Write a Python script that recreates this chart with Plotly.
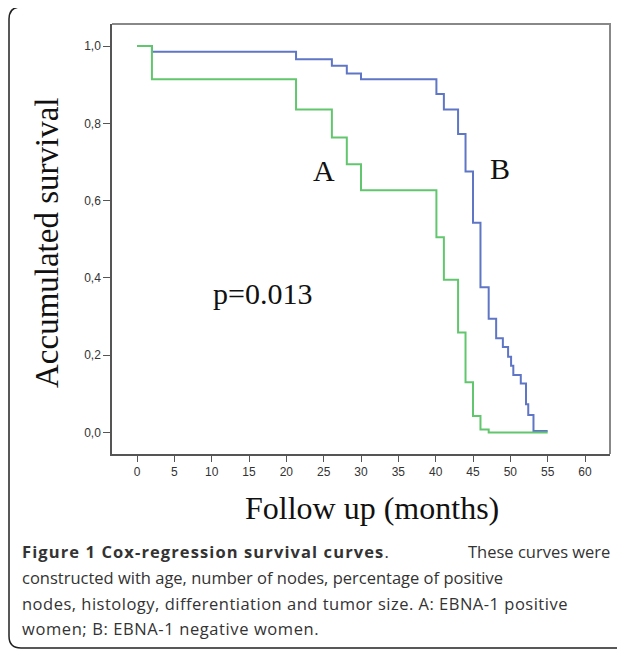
import plotly.graph_objects as go

# ---- data ----
months_A = [0, 2, 21.3, 26.1, 28.1, 30, 40.1, 41.1, 43, 44, 45, 46, 47.1, 55]
surv_A = [1.0, 0.914, 0.836, 0.763, 0.694, 0.627, 0.505, 0.395, 0.259, 0.130, 0.043, 0.008, 0.0, 0.0]

months_B = [0, 2, 21.3, 26.1, 28.1, 30, 40.1, 41.1, 43, 44, 45, 46, 47.1, 48.1, 49, 49.7,
            50.1, 50.4, 51.4, 52.1, 52.4, 53.1, 55]
surv_B = [1.0, 0.985, 0.966, 0.949, 0.929, 0.914, 0.876, 0.836, 0.772, 0.675, 0.543, 0.376,
          0.294, 0.244, 0.221, 0.196, 0.173, 0.149, 0.127, 0.073, 0.045, 0.004, 0.004]

x_ticks = [0, 5, 10, 15, 20, 25, 30, 35, 40, 45, 50, 55, 60]
y_ticks = [0.0, 0.2, 0.4, 0.6, 0.8, 1.0]
y_ticktext = ["0,0", "0,2", "0,4", "0,6", "0,8", "1,0"]

caption_title = "Figure 1 Cox-regression survival curves"
caption_line1_rest = "These curves were"
caption_lines = [
    "constructed with age, number of nodes, percentage of positive",
    "nodes, histology, differentiation and tumor size. A: EBNA-1 positive",
    "women; B: EBNA-1 negative women.",
]

# page (viewport) size and the browser's default 8px body margin
PW, PH = 625, 651
OFF = 8
W, H = PW - OFF, PH - OFF
L, R, T, B = 112, 610, 24, 454  # plot area in page pixels


def px(x):
    return (x - L) / (R - L)


def py(y):
    return (B - y) / (B - T)


fig = go.Figure()
fig.add_trace(go.Scatter(x=months_B, y=surv_B, mode="lines", line=dict(color="#5f76c6", width=2, shape="hv"),
                         showlegend=False, hoverinfo="skip"))
fig.add_trace(go.Scatter(x=months_A, y=surv_A, mode="lines", line=dict(color="#62c66e", width=2, shape="hv"),
                         showlegend=False, hoverinfo="skip"))

serif = "Liberation Serif, Times New Roman, serif"
sans = "Liberation Sans, Arial, sans-serif"

# axis ranges derived from pixel layout
x0 = (L - 137) / ((585 - 137) / 60)
x1 = (R - 137) / ((585 - 137) / 60)
ppu = (432.5 - 46) / 1.0
y0 = -(B - 432.5) / ppu
y1 = 1 + (46 - T) / ppu

fig.update_layout(
    width=W, height=H,
    margin=dict(l=L - OFF, r=PW - R, t=T - OFF, b=PH - B),
    paper_bgcolor="white", plot_bgcolor="white",
    xaxis=dict(range=[x0, x1], tickvals=x_ticks, ticks="outside", ticklen=6, tickwidth=1.2,
               tickcolor="#555", showgrid=False, zeroline=False, showline=True, linecolor="#555",
               linewidth=1.5, tickfont=dict(family=sans, size=12, color="#333")),
    yaxis=dict(range=[y0, y1], tickvals=y_ticks, ticktext=y_ticktext, ticks="outside", ticklen=7,
               tickwidth=1.2, tickcolor="#555", showgrid=False, zeroline=False, showline=True,
               linecolor="#555", linewidth=1.5, tickfont=dict(family=sans, size=12, color="#333")),
)

shapes = []
# gray plot frame (top + right)
shapes.append(dict(type="path", xref="paper", yref="paper",
                   path=f"M {px(L)},{py(T)} L {px(R)},{py(T)} L {px(R)},{py(B)}",
                   line=dict(color="#888", width=2)))
# outer rounded border (open on right side)
r = 12
bl, bt, bb, br = 9, 7, 648, 640
path = (f"M {px(br)},{py(bt)} L {px(bl + r)},{py(bt)} "
        f"Q {px(bl)},{py(bt)} {px(bl)},{py(bt + r)} "
        f"L {px(bl)},{py(bb - r)} Q {px(bl)},{py(bb)} {px(bl + r)},{py(bb)} L {px(br)},{py(bb)}")
shapes.append(dict(type="path", xref="paper", yref="paper", path=path,
                   line=dict(color="#222", width=1.5)))
fig.update_layout(shapes=shapes)

ann = []
ann.append(dict(text="A", x=324, y=170, font=dict(family=serif, size=30, color="#111")))
ann.append(dict(text="B", x=500, y=168, font=dict(family=serif, size=30, color="#111")))
ann.append(dict(text="p=0.013", x=262, y=293, font=dict(family=serif, size=30, color="#111")))
ann.append(dict(text="Follow up (months)", x=372, y=508, font=dict(family=serif, size=32, color="#111")))
ann.append(dict(text="Accumulated survival", x=47, y=243, textangle=-90,
                font=dict(family=serif, size=33, color="#111")))
annotations = []
for a in ann:
    annotations.append(dict(text=a["text"], xref="paper", yref="paper", x=px(a["x"]), y=py(a["y"]),
                            xanchor="center", yanchor="middle", showarrow=False, font=a["font"],
                            textangle=a.get("textangle", 0)))
capfont = dict(family="Open Sans, sans-serif", size=16.5, color="#333")
title_html = f'<span style="letter-spacing:1.1px"><b>{caption_title}</b></span>.'
annotations.append(dict(text=title_html, xref="paper", yref="paper", x=px(20), y=py(551),
                        xanchor="left", yanchor="middle", showarrow=False, font=capfont))
annotations.append(dict(text=caption_line1_rest, xref="paper", yref="paper", x=px(612), y=py(551),
                        xanchor="right", yanchor="middle", showarrow=False, font=capfont))
spacing = [0.0, 0.5, 0.6]
for line, yy, sp in zip(caption_lines, [577, 603, 628], spacing):
    annotations.append(dict(text=f'<span style="letter-spacing:{sp}px">{line}</span>', xref="paper",
                            yref="paper", x=px(20), y=py(yy), xanchor="left",
                            yanchor="middle", showarrow=False, font=capfont))
fig.update_layout(annotations=annotations)

fig.write_html("out.html")
